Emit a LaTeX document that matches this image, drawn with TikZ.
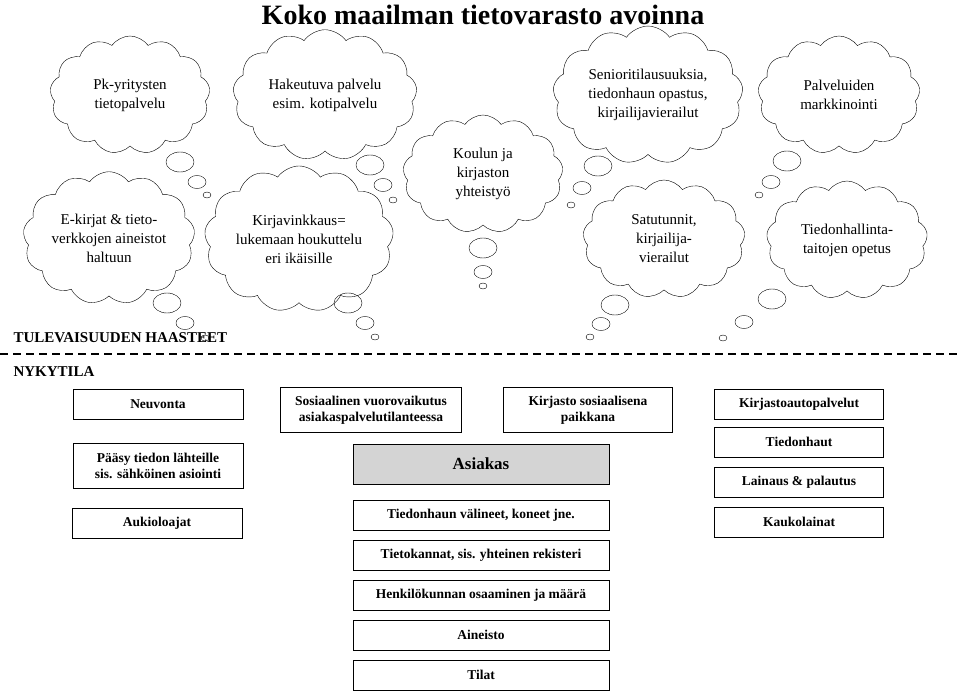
\documentclass[tikz,border=0pt]{standalone}
\usepackage{fontspec}
\setmainfont{Liberation Serif}
\usetikzlibrary{shapes.symbols,shapes.geometric}

\tikzset{
	idea/.style={cloud,draw,cloud puffs=13,cloud puff arc=110,aspect=1.4,
		inner sep=0pt,align=center,font=\fontsize{15}{19}\selectfont},
	puff/.style={draw,ellipse,inner sep=0pt},
	item/.style={draw,thick,minimum height=30pt,align=center,
		font=\bfseries\fontsize{13.5}{18}\selectfont},
	heading/.style={font=\bfseries\fontsize{15}{18}\selectfont,anchor=west}
}

\begin{document}
\begin{tikzpicture}[x=1pt,y=-1pt]
	\useasboundingbox (0,0) rectangle (960,692);
	
	\node[font=\bfseries\fontsize{28}{30}\selectfont] (title) at (483,15) {Koko maailman tietovarasto avoinna};
	
	% tulevaisuus
	\node[idea,minimum width=160pt,minimum height=118pt] (c1) at (130,95) {Pk-yritysten\\tietopalvelu};
	\node[idea,minimum width=184pt,minimum height=118pt] (c2) at (325,95) {Hakeutuva palvelu\\esim. kotipalvelu};
	\node[idea,minimum width=190pt,minimum height=118pt] (c3) at (648,95) {Senioritilausuuksia,\\tiedonhaun opastus,\\kirjailijavierailut};
	\node[idea,minimum width=162pt,minimum height=118pt] (c4) at (839,95) {Palveluiden\\markkinointi};
	\node[idea,minimum width=168pt,minimum height=118pt] (c5) at (109,238) {E-kirjat \& tieto-\\verkkojen aineistot\\haltuun};
	\node[idea,minimum width=172pt,minimum height=120pt] (c6) at (299,239) {Kirjavinkkaus=\\lukemaan houkuttelu\\eri ikäisille};
	\node[idea,minimum width=160pt,minimum height=118pt] (c7) at (483,174) {Koulun ja\\kirjaston\\yhteistyö};
	\node[idea,minimum width=162pt,minimum height=118pt] (c8) at (664,239) {Satutunnit,\\kirjailija-\\vierailut};
	\node[idea,minimum width=161pt,minimum height=118pt] (c9) at (847,240) {Tiedonhallinta-\\taitojen opetus};
	
	% tails
	\foreach \n/\ax/\ay/\bx/\by/\cx/\cy in {1/180/162/197/182/207/195, 2/370/165/383/185/393/200,
		3/598/166/582/188/571/205, 4/787/161/771/182/759/195, 5/167/303/185/323/205/338,
		6/348/303/365/323/375/337, 7/483/248/483/272/483/286, 8/615/305/601/324/590/337,
		9/772/299/744/322/723/338}
	{
		\node[puff,minimum width=28pt,minimum height=20pt] (t\n a) at (\ax,\ay) {};
		\node[puff,minimum width=18pt,minimum height=13pt] (t\n b) at (\bx,\by) {};
		\node[puff,minimum width=8pt,minimum height=6pt] (t\n c) at (\cx,\cy) {};
	}
	
	\node[heading] (future) at (10,338) {TULEVAISUUDEN HAASTEET};
	\coordinate (dl) at (0,354);
	\coordinate (dr) at (960,354);
	\draw[line width=1.5pt,dash pattern=on 8pt off 5pt] (dl) -- (dr);
	\node[heading] (now) at (10,372) {NYKYTILA};
	
	% nykytila
	\node[item,minimum width=170pt] (neuvonta) at (158,404) {Neuvonta};
	\node[item,minimum width=170pt,minimum height=45pt,font=\bfseries\fontsize{13.5}{16}\selectfont] (paasy) at (158,466) {Pääsy tiedon lähteille\\sis. sähköinen asiointi};
	\node[item,minimum width=170pt] (auki) at (157,523) {Aukioloajat};
	
	\node[item,minimum width=181pt,minimum height=45pt,font=\bfseries\fontsize{13.5}{16}\selectfont] (sosiaal) at (371,410) {Sosiaalinen vuorovaikutus\\asiakaspalvelutilanteessa};
	\node[item,minimum width=169pt,minimum height=45pt,font=\bfseries\fontsize{13.5}{16}\selectfont] (paikka) at (588,410) {Kirjasto sosiaalisena\\paikkana};
	
	\node[item,minimum width=256pt,minimum height=40pt,fill=black!17,font=\bfseries\fontsize{17}{20}\selectfont] (asiakas) at (481,464) {Asiakas};
	\node[item,minimum width=256pt] (valineet) at (481,515) {Tiedonhaun välineet, koneet jne.};
	\node[item,minimum width=256pt] (kannat) at (481,555) {Tietokannat, sis. yhteinen rekisteri};
	\node[item,minimum width=256pt] (henk) at (481,595) {Henkilökunnan osaaminen ja määrä};
	\node[item,minimum width=256pt] (aineisto) at (481,635) {Aineisto};
	\node[item,minimum width=256pt] (tilat) at (481,675) {Tilat};
	
	\node[item,minimum width=169pt] (auto) at (799,404) {Kirjastoautopalvelut};
	\node[item,minimum width=169pt] (haut) at (799,442) {Tiedonhaut};
	\node[item,minimum width=169pt] (lainaus) at (799,482) {Lainaus \& palautus};
	\node[item,minimum width=169pt] (kauko) at (799,522) {Kaukolainat};
\end{tikzpicture}
\end{document}
